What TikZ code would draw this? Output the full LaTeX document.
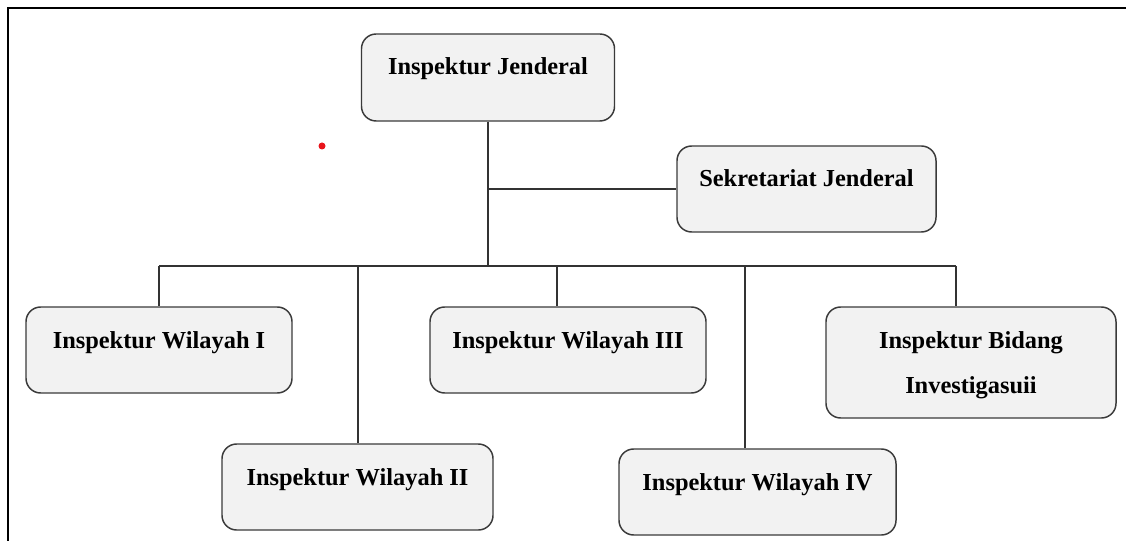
\documentclass[tikz,border=0pt]{standalone}
\usepackage{fontspec}
\setmainfont{Liberation Serif}
\definecolor{boxfill}{HTML}{F2F2F2}
\definecolor{boxline}{HTML}{3A3A3A}
\definecolor{connline}{HTML}{333333}
\definecolor{dotred}{HTML}{E8141B}
\begin{document}
\begin{tikzpicture}[x=0.75pt,y=-0.75pt,
  box/.style={draw=boxline, fill=boxfill, line width=1.1pt, rounded corners=11pt,
    inner xsep=0pt, inner ysep=0pt, anchor=center,
    font=\bfseries\fontsize{18.3pt}{22pt}\selectfont, text height=30.75pt, text depth=33.75pt},
  conn/.style={draw=connline, line width=1.1pt}]
\useasboundingbox (0,0) rectangle (1126,541);
% frame
\draw[line width=1.6pt, black] (1126,8) -- (8,8) -- (8,541);
% red dot
\fill[dotred] (322,146) circle (3.5);
% boxes
\node[box, minimum width=189.75pt, text depth=34.5pt] (IJ) at (488,77.5) {Inspektur Jenderal};
\node[box, minimum width=194.25pt] (SJ) at (806.5,189) {Sekretariat Jenderal};
\node[box, minimum width=199.5pt] (W1) at (159,350) {Inspektur Wilayah I};
\node[box, minimum width=203.25pt] (W2) at (357.5,487) {Inspektur Wilayah II};
\node[box, minimum width=207pt] (W3) at (568,350) {Inspektur Wilayah III};
\node[box, minimum width=207.75pt] (W4) at (757.5,492) {Inspektur Wilayah IV};
\node[box, minimum width=217.5pt, text height=30.75pt, text depth=52.5pt] (IB) at (971,362.5)
  {\vtop{\baselineskip=34pt\halign{\hfil#\hfil\cr Inspektur Bidang\cr Investigasuii\cr}}};
% connectors
\coordinate (j1) at (488,189);
\coordinate (j2) at (488,266);
\coordinate (b1) at (159,266);
\coordinate (b2) at (358,266);
\coordinate (b3) at (557,266);
\coordinate (b4) at (745,266);
\coordinate (b5) at (956,266);
\draw[conn] (IJ.south) -- (j2);
\draw[conn] (j1) -- (SJ.west);
\draw[conn] (b1) -- (b5);
\draw[conn] (b1) -- (W1.north);
\draw[conn] (b2) -- (b2 |- W2.north);
\draw[conn] (b3) -- (b3 |- W3.north);
\draw[conn] (b4) -- (b4 |- W4.north);
\draw[conn] (b5) -- (b5 |- IB.north);
\end{tikzpicture}
\end{document}
